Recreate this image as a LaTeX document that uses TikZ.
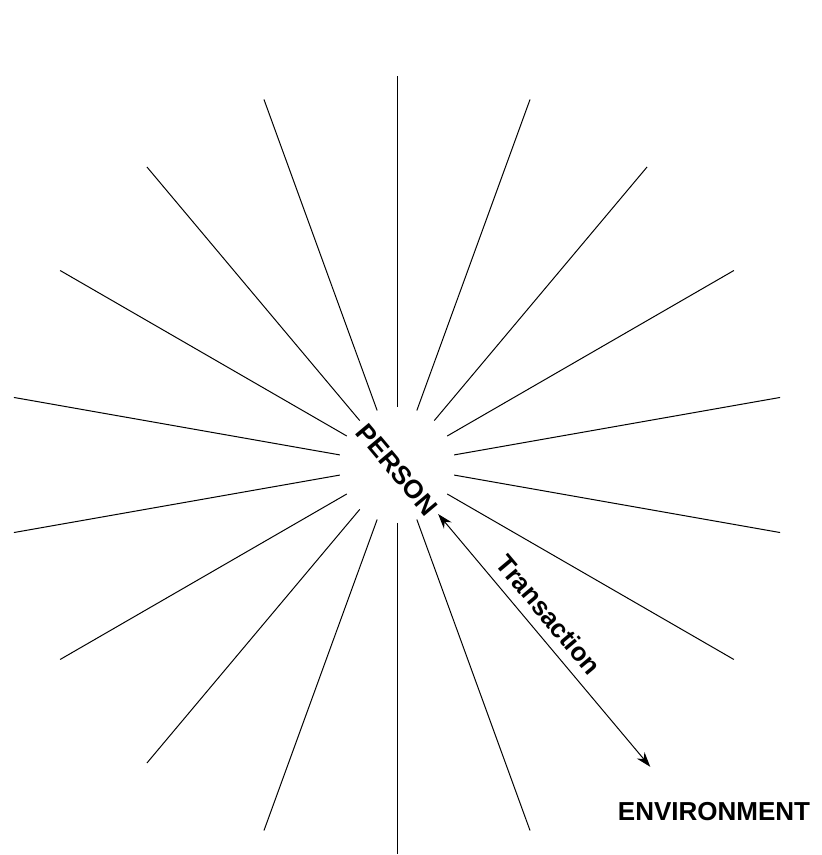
\documentclass[tikz,border=0pt]{standalone}
\usepackage{fontspec}
\setmainfont{Liberation Sans}
\usetikzlibrary{arrows.meta, positioning}

\tikzset{
    word/.style={font=\bfseries\fontsize{13}{15}\selectfont, inner sep=1pt},
    ray/.style={line width=0.5pt}
}

\begin{document}
\begin{tikzpicture}[x=0.5pt, y=0.5pt, >={Stealth[length=7.5pt, width=5pt]}]
    \useasboundingbox (-397,-390) rectangle (425,465);

    % rays around the person
    \foreach \a in {10,30,50,70,90,110,130,150,170,190,210,230,250,270,290,330,350}
        \draw[ray] (\a:58) -- (\a:389);

    \node[word, rotate=-50] (person) at (0,-5) {PERSON};
    \node[word] (environment) at (317,-347) {ENVIRONMENT};

    \coordinate (inner) at (-50:64);
    \coordinate (outer) at (-50:394);
    \draw[ray, <->] (inner) -- (outer)
        node[word, pos=0.45, sloped, above=4pt] {Transaction};
\end{tikzpicture}
\end{document}
